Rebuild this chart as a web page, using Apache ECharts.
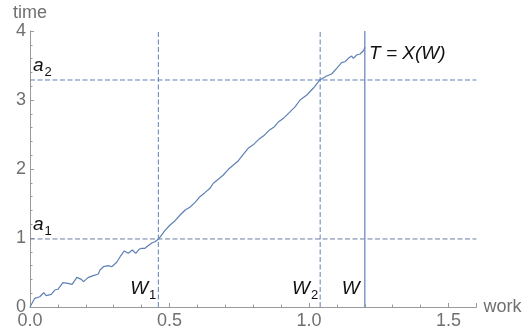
<!DOCTYPE html>
<html>
<head>
<meta charset="utf-8">
<script src="https://cdn.jsdelivr.net/npm/echarts@6/dist/echarts.min.js"></script>
<style>
  html, body { margin: 0; padding: 0; background: #fff; }
  #chart { width: 527px; height: 334px; }
</style>
</head>
<body>
<div id="chart"></div>
<script>
// Sample path T = X(W): cumulative time against cumulative work
const workVals = [0, 0.017, 0.035, 0.049, 0.058, 0.076, 0.089, 0.100, 0.118, 0.136, 0.151, 0.168,
  0.184, 0.192, 0.208, 0.226, 0.244, 0.251, 0.263, 0.281, 0.293, 0.311, 0.323, 0.338, 0.352,
  0.367, 0.379, 0.391, 0.400, 0.412, 0.427, 0.438, 0.448, 0.455, 0.462, 0.484, 0.502, 0.520,
  0.538, 0.556, 0.573, 0.591, 0.609, 0.627, 0.645, 0.657, 0.675, 0.693, 0.711, 0.729, 0.747,
  0.765, 0.782, 0.800, 0.820, 0.840, 0.860, 0.875, 0.890, 0.910, 0.930, 0.950, 0.968, 0.992,
  1.015, 1.039, 1.063, 1.081, 1.099, 1.117, 1.129, 1.141, 1.153, 1.159, 1.171, 1.183, 1.195, 1.201];
const timeVals = [0, 0.126, 0.148, 0.207, 0.164, 0.184, 0.246, 0.257, 0.352, 0.343, 0.329, 0.430,
  0.401, 0.367, 0.425, 0.454, 0.474, 0.536, 0.584, 0.599, 0.584, 0.648, 0.729, 0.812, 0.778,
  0.826, 0.778, 0.836, 0.851, 0.851, 0.899, 0.932, 0.946, 0.971, 0.990, 1.110, 1.188, 1.251,
  1.333, 1.406, 1.445, 1.512, 1.599, 1.657, 1.720, 1.793, 1.851, 1.913, 1.996, 2.058, 2.120,
  2.217, 2.300, 2.350, 2.430, 2.490, 2.570, 2.610, 2.680, 2.740, 2.820, 2.900, 3.000, 3.072,
  3.170, 3.290, 3.348, 3.377, 3.459, 3.541, 3.555, 3.604, 3.638, 3.604, 3.652, 3.667, 3.714, 3.764];

// Threshold levels and the work values where they are reached
const levelNames = ['a1', 'a2'];
const levelVals = [0.986, 3.29];
const workMarkNames = ['W1', 'W2'];
const workMarkVals = [0.46, 1.04];
const totalWork = 1.2;

// Axis ranges and tick steps
const xRange = [0, 1.6];
const yRange = [0, 4];
const xStep = 0.5;
const yStep = 1;

const blue = '#5e81b5';
const axisGray = '#9a9a9a';
const labelGray = '#707070';
const FONT = '"Liberation Sans", Arial, sans-serif';
const DASH = [5, 2.5];

const pathData = workVals.map((w, i) => [w, timeVals[i]]);

const refSeries = [];
levelVals.forEach((a, i) => {
  refSeries.push({
    type: 'line', name: levelNames[i], silent: true, symbol: 'none',
    data: [[xRange[0], a], [xRange[1], a]],
    lineStyle: { color: i === 0 ? '#6a7ba3' : blue, width: 1, type: DASH },
    z: 1
  });
});
workMarkVals.forEach((w, i) => {
  refSeries.push({
    type: 'line', name: workMarkNames[i], silent: true, symbol: 'none',
    data: [[w, yRange[0]], [w, yRange[1]]],
    lineStyle: { color: blue, width: 1, type: DASH },
    z: 1
  });
});
refSeries.push({
  type: 'line', name: 'W', silent: true, symbol: 'none',
  data: [[totalWork, yRange[0]], [totalWork, yRange[1]]],
  lineStyle: { color: '#7a91c4', width: 1.4 },
  z: 1
});

const chart = echarts.init(document.getElementById('chart'), null, { renderer: 'canvas' });

const axisCommon = {
  type: 'value',
  axisLine: { show: true, onZero: false, lineStyle: { color: axisGray, width: 1 } },
  axisTick: { show: true, inside: true, length: 4, lineStyle: { color: axisGray } },
  minorTick: { show: true, splitNumber: 5, length: 2.5, lineStyle: { color: axisGray } },
  splitLine: { show: false },
  minorSplitLine: { show: false },
  nameTextStyle: { color: labelGray, fontSize: 18, fontFamily: FONT }
};

chart.setOption({
  animation: false,
  backgroundColor: '#fff',
  grid: { left: 30, right: 50.6, top: 31, bottom: 27, containLabel: false },
  xAxis: Object.assign({}, axisCommon, {
    min: xRange[0], max: xRange[1], interval: xStep,
    name: 'work', nameLocation: 'end', nameGap: 7,
    axisLabel: {
      color: labelGray, fontSize: 18, fontFamily: FONT, margin: 5,
      showMaxLabel: false,
      formatter: v => (Math.abs(v / xStep - Math.round(v / xStep)) < 1e-6 ? v.toFixed(1) : '')
    }
  }),
  yAxis: Object.assign({}, axisCommon, {
    min: yRange[0], max: yRange[1], interval: yStep,
    name: 'time', nameLocation: 'end', nameGap: 6,
    axisLabel: { color: labelGray, fontSize: 18, fontFamily: FONT, margin: 4 }
  }),
  series: [
    {
      type: 'line', name: 'T = X(W)', data: pathData, symbol: 'none',
      lineStyle: { color: blue, width: 1.2 }, silent: true, z: 3
    }
  ].concat(refSeries)
});

// Italic annotations with upright subscripts, anchored to data coordinates
const ctx = document.createElement('canvas').getContext('2d');
function textWidth(str, size, italic) {
  ctx.font = (italic ? 'italic ' : '') + size + 'px ' + FONT;
  return ctx.measureText(str).width;
}
const MAIN = 19, SUB = 13;

function subLabel(main, sub, px, py, anchor) {
  // anchor: 'left' => px is left edge, 'right' => px is right edge; py is baseline
  const wm = textWidth(main, MAIN, true);
  const ws = textWidth(sub, SUB, false);
  const left = anchor === 'right' ? px - wm - ws - 1 : px;
  return [
    { type: 'text', x: left, y: py, silent: true,
      style: { text: main, fontSize: MAIN, fontStyle: 'italic', fontFamily: FONT, fill: '#111',
               align: 'left', verticalAlign: 'bottom' } },
    { type: 'text', x: left + wm + 1, y: py + 4, silent: true,
      style: { text: sub, fontSize: SUB, fontFamily: FONT, fill: '#111',
               align: 'left', verticalAlign: 'bottom' } }
  ];
}

function toPx(x, y) { return chart.convertToPixel({ gridIndex: 0 }, [x, y]); }

const elems = [];
levelVals.forEach((a, i) => {
  const p = toPx(xRange[0], a);
  elems.push(...subLabel('a', levelNames[i].slice(1), p[0] + 3, p[1] - 5, 'left'));
});
workMarkVals.forEach((w, i) => {
  const p = toPx(w, 0);
  elems.push(...subLabel('W', workMarkNames[i].slice(1), p[0] - 2, p[1] - 9, 'right'));
});
{
  const p = toPx(totalWork, 0);
  elems.push({ type: 'text', x: p[0] - 5, y: p[1] - 9, silent: true,
    style: { text: 'W', fontSize: MAIN, fontStyle: 'italic', fontFamily: FONT, fill: '#111',
             align: 'right', verticalAlign: 'bottom' } });
  const q = toPx(workVals[workVals.length - 1], timeVals[timeVals.length - 1]);
  elems.push({ type: 'text', x: q[0] + 4, y: q[1] + 6, silent: true,
    style: { text: 'T = X(W)', fontSize: MAIN, fontStyle: 'italic', fontFamily: FONT, fill: '#111',
             align: 'left', verticalAlign: 'middle' } });
}
chart.setOption({ graphic: { elements: elems } });
</script>
</body>
</html>
